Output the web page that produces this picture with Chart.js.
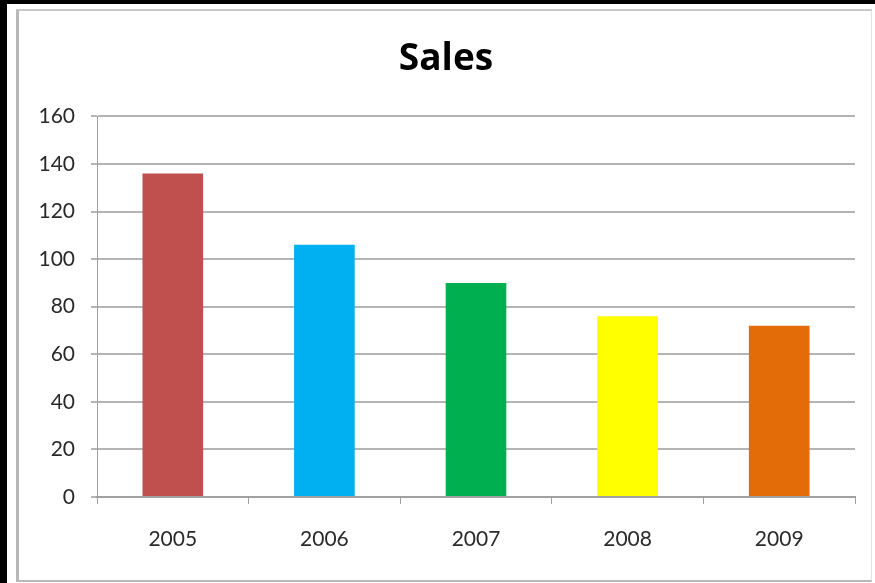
<!DOCTYPE html>
<html lang="en">
<head>
    <meta charset="UTF-8">
    <title>Sales</title>
    <script src="https://cdn.jsdelivr.net/npm/chart.js"></script>
    <style>
        body { margin: 0; background: #fff; }
        #wrap { position: relative; width: 875px; height: 583px; }
        #salesChart { position: absolute; left: 0; top: 0; }
        #frame {
            position: absolute; left: 0; top: 0; width: 875px; height: 583px;
            box-sizing: border-box; pointer-events: none;
            border-top: 4px solid #000; border-left: 7px solid #000;
        }
        #inner {
            position: absolute; left: 9px; top: 5px; right: 3px; bottom: 1px;
            border-left: 3px solid #b8b8b8; border-top: 2px solid #c8c8c8;
            border-right: 1px solid #e0e0e0; border-bottom: 2px solid #b8b8b8;
        }
    </style>
</head>
<body>
<div id="wrap">
    <canvas id="salesChart" width="875" height="583"></canvas>
    <div id="frame"><div id="inner"></div></div>
</div>
<script>
    const years = ['2005', '2006', '2007', '2008', '2009'];
    const sales = [136, 106, 90, 76, 72];
    const barColors = ['#C0504D', '#00B0F0', '#00B050', '#FFFF00', '#E36C09'];

    const ctx = document.getElementById('salesChart').getContext('2d');
    new Chart(ctx, {
        type: 'bar',
        data: {
            labels: years,
            datasets: [{
                label: 'Sales',
                data: sales,
                backgroundColor: barColors,
                borderWidth: 0,
                barPercentage: 0.4,
                categoryPercentage: 1
            }]
        },
        options: {
            responsive: false,
            animation: false,
            // left padding keeps the title centred on the whole frame
            layout: { padding: { left: 37, right: 20, top: 0, bottom: 0 } },
            plugins: {
                legend: { display: false },
                tooltip: { enabled: false },
                title: {
                    display: true,
                    text: 'Sales',
                    color: '#000',
                    font: { family: 'Open Sans', size: 37, weight: 'bold' },
                    padding: { top: 37, bottom: 35 }
                }
            },
            scales: {
                x: {
                    grid: { offset: true, drawOnChartArea: false, drawTicks: true, tickLength: 7, color: '#a0a0a0', lineWidth: 1 },
                    border: { color: '#a0a0a0', width: 2 },
                    ticks: { color: '#2a2a2a', font: { family: 'Lato', size: 21 }, padding: 23 },
                    afterFit: (s) => { s.height = 86; }
                },
                y: {
                    min: 0,
                    max: 160,
                    ticks: { stepSize: 20, color: '#2a2a2a', font: { family: 'Lato', size: 21 }, padding: 16 },
                    grid: { color: '#b4b4b4', lineWidth: 2, tickLength: 6 },
                    border: { color: '#a0a0a0', width: 1 },
                    afterFit: (s) => { s.width = 60; }
                }
            }
        }
    });
</script>
</body>
</html>
